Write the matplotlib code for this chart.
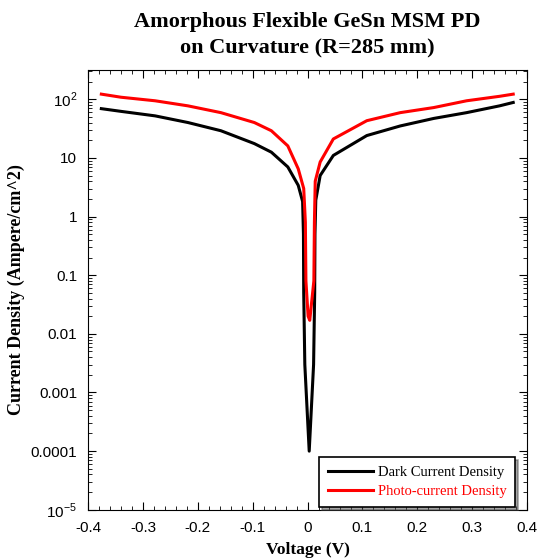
import numpy as np
import matplotlib.pyplot as plt
from matplotlib.ticker import MultipleLocator, LogLocator, NullFormatter

plt.rcParams['font.family'] = ['Liberation Sans', 'DejaVu Sans']
plt.rcParams['mathtext.fontset'] = 'custom'
plt.rcParams['mathtext.rm'] = 'Liberation Sans'

# dark current density (A/cm^2) vs voltage (V)
v_dark = [-0.376, -0.34, -0.278, -0.218, -0.158, -0.097, -0.066, -0.036, -0.017, -0.009,
          -0.0075, -0.007, -0.005, 0.003, 0.011, 0.013, 0.0135, 0.015,
          0.023, 0.047, 0.108, 0.169, 0.23, 0.29, 0.35, 0.375]
j_dark = [69, 62, 52, 40, 29, 17.5, 12.5, 7, 3.4, 1.8,
          0.5, 0.05, 0.003, 1e-4, 0.003, 0.05, 0.5, 1.9,
          5, 11, 24, 35, 47, 59, 77, 88]

# photo-current density
v_photo = [-0.376, -0.34, -0.278, -0.218, -0.158, -0.097, -0.066, -0.036, -0.017, -0.007,
           -0.004, -0.003, 0.001, 0.004, 0.0115, 0.0125, 0.014,
           0.023, 0.047, 0.108, 0.169, 0.23, 0.29, 0.35, 0.375]
j_photo = [122, 108, 94, 77, 59, 40, 29, 16, 6.5, 3,
           0.8, 0.08, 0.02, 0.017, 0.08, 0.8, 4,
           8.5, 21, 43, 59, 72, 94, 112, 122]

ytick_vals = [1e-5, 1e-4, 1e-3, 1e-2, 1e-1, 1, 10, 100]
ytick_labels = ['$10^{-5}$', '0.0001', '0.001', '0.01', '0.1', '1', '10', '$10^{2}$']

fig = plt.figure(figsize=(5.41, 5.59), dpi=100)
ax = fig.add_axes([0.163, 0.088, 0.811, 0.787])

ax.plot(v_dark, j_dark, color='black', lw=2.2, label='Dark Current Density')
ax.plot(v_photo, j_photo, color='red', lw=2.2, label='Photo-current Density')

ax.set_yscale('log')
ax.set_xlim(-0.4, 0.4)
ax.set_ylim(1e-5, 10**2.5)
ax.set_yticks(ytick_vals, ytick_labels)
ax.yaxis.set_minor_locator(LogLocator(base=10, subs=np.arange(2, 10)))
ax.yaxis.set_minor_formatter(NullFormatter())
ax.xaxis.set_major_locator(MultipleLocator(0.1))
ax.xaxis.set_minor_locator(MultipleLocator(0.02))
ax.set_xticklabels([f'{x:g}' if abs(x) > 1e-9 else '0' for x in ax.get_xticks()])

ax.tick_params(which='both', direction='in', top=True, right=True, labelsize=11, pad=8)
ax.tick_params(which='major', length=6)
ax.tick_params(which='minor', length=3)

ax.set_xlabel('Voltage (V)', family='Liberation Serif', fontweight='bold', fontsize=12.5, labelpad=5)
ax.set_ylabel('Current Density (Ampere/cm^2)', family='Liberation Serif', fontweight='bold', fontsize=13)
ax.set_title('Amorphous Flexible GeSn MSM PD\non Curvature (R=285 mm)',
             family='Liberation Serif', fontweight='bold', fontsize=16, pad=12, linespacing=1.4)

leg = ax.legend(loc='lower right', bbox_to_anchor=(0.973, 0.007), frameon=True, fancybox=False,
                shadow=True, edgecolor='black', labelcolor='linecolor', handlelength=3.1,
                prop={'family': 'Liberation Serif', 'size': 10.5},
                borderaxespad=0.0, handletextpad=0.3, borderpad=0.6, labelspacing=0.4)
leg.get_frame().set_linewidth(1.2)

fig.savefig('out.png', dpi=100)
